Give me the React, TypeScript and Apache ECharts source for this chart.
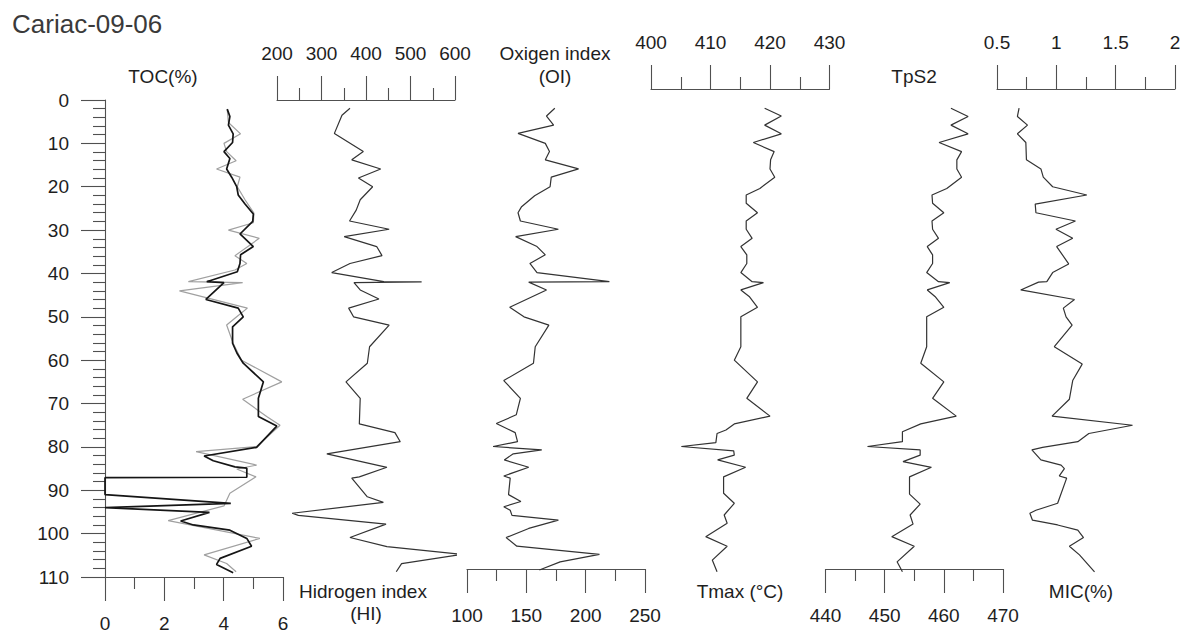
import { useEffect, useRef } from "react";
import * as echarts from "echarts";

const chartTitle = "Cariac-09-06";
const depthMin = 0;
const depthMax = 110;

// [depth, value]
const tocBlack = [
  [2.1, 4.12], [3.8, 4.21], [5.8, 4.16], [7.8, 4.32], [9.8, 4.3], [11.9, 4.01], [13.5, 4.21], [15.9, 4.1],
  [17.8, 4.27], [20, 4.44], [21.9, 4.49], [24, 4.72], [26.3, 5.0], [28, 4.98], [30.9, 4.55], [33.8, 5.0],
  [35.7, 4.57], [37.7, 4.55], [39.6, 4.46], [41.9, 3.43], [42.1, 4.01], [46, 3.4], [48, 4.49], [50, 4.66],
  [52.3, 4.3], [56.1, 4.3], [58.4, 4.45], [60.7, 4.66], [65, 5.34], [68.8, 5.17], [73, 5.17], [75.2, 5.79],
  [80.1, 5.11], [82.1, 3.34], [83.2, 3.65], [84.6, 4.38], [84.9, 4.78], [87, 4.78], [87.1, 0], [91, 0],
  [93, 4.24], [94, 0], [95.1, 3.52], [97.1, 2.55], [98, 2.98], [99.2, 4.21], [101.1, 4.78], [102.9, 4.94],
  [105.7, 3.88], [107.1, 3.76], [109, 4.32],
];

const tocGray = [
  [2.1, 4.12], [5.2, 4.16], [7.8, 4.57], [10, 4.01], [11.9, 4.1], [14, 4.42], [15.9, 3.76], [17.8, 4.55],
  [20, 4.46], [23, 4.72], [26.1, 5.02], [28.3, 5.0], [30, 4.16], [31.9, 5.2], [35.9, 4.38], [37.7, 4.78],
  [39.2, 4.38], [41.9, 2.81], [42.1, 4.64], [44, 2.51], [48, 4.8], [50, 4.44], [51.9, 4.1], [56.1, 4.32],
  [60, 4.6], [65, 5.96], [69, 4.64], [73, 5.45], [75, 5.9], [79.9, 5.11], [81.1, 3.07], [84.2, 5.11],
  [85.1, 4.44], [86.9, 5.09], [90.7, 4.21], [93.6, 4.01], [97, 2.13], [101.1, 5.22], [104.9, 3.34],
  [106.9, 4.1], [108.8, 4.42],
];

const hiData = [
  [1.9, 364], [3.5, 346], [7.7, 329], [11.9, 394], [13.8, 368], [15.9, 433], [18, 383], [20, 415],
  [23, 387], [25.4, 378], [27.9, 363], [29.8, 452], [31.5, 351], [33.8, 424], [35.9, 436], [37.7, 364],
  [39.8, 323], [41.9, 440], [41.95, 525], [42.1, 373], [43.8, 387], [45.9, 429], [48, 361], [50, 372],
  [51.9, 452], [56.9, 408], [60.7, 403], [65, 355], [68.8, 387], [74.7, 385], [76.7, 465], [78.8, 477],
  [81.6, 312], [84.7, 447], [86.9, 385], [87.2, 368], [91.5, 403], [92.8, 439], [95.3, 234], [95.8, 248],
  [97.8, 445], [100.9, 364], [103, 447], [104.8, 615], [106.9, 480], [108.8, 468],
];

const oiData = [
  [1.9, 174], [3.7, 167], [5.8, 173], [7.7, 143], [10, 166], [11.9, 169.5], [13.8, 166], [15.9, 194],
  [17.8, 171], [20, 170], [22.1, 157], [24.6, 146], [26, 143], [27.9, 145], [29.8, 177], [31.5, 141],
  [33.8, 159], [35.7, 166], [37.7, 153], [39.8, 159], [41.9, 220], [42, 152], [43.8, 167], [47.8, 136],
  [50, 148], [51.9, 169], [56.9, 157.5], [60.7, 156], [64.7, 131], [68.8, 145], [72.6, 141.5], [74.6, 124.7],
  [76.7, 140.6], [78.8, 142.6], [79.9, 122], [80.7, 163], [81.6, 139], [83, 131.4], [84.7, 152], [86.7, 131],
  [87.2, 136.4], [91, 135], [92.6, 145.4], [93.8, 131], [94.6, 136.4], [95.8, 137.9], [96.9, 177], [98.8, 152],
  [100.9, 133], [102.9, 142], [104.8, 211.6], [106.5, 178.5], [108.4, 161],
];

const tmaxData = [
  [1.9, 419.1], [3.7, 421.9], [5.8, 419.1], [7.8, 421.9], [9.8, 417.2], [11.9, 420.7], [13.8, 420.1],
  [15.9, 420], [17.8, 420.8], [20.4, 418.3], [21.9, 416], [23.8, 416], [26, 417.9], [27.9, 416], [29.8, 416],
  [31.9, 417], [33.8, 415.1], [35.7, 416.1], [37.7, 416.1], [39.8, 415.1], [41.9, 417], [42.1, 418.9],
  [43.8, 415.1], [45.3, 416.5], [47.8, 417.9], [50, 415.1], [56.9, 415.1], [60, 414], [65, 417.9],
  [68.8, 416.1], [72.9, 420], [74.7, 414], [76.1, 412.6], [76.9, 411.1], [79, 410.9], [79.9, 405.1],
  [80.9, 413.9], [81.9, 414], [83, 411.2], [84.7, 415.9], [86.9, 412.2], [90.7, 412.2], [93, 414],
  [95.7, 412.3], [97.6, 412.8], [100.7, 409.2], [102.9, 412.8], [106.1, 410.3], [108.8, 411.1],
];

const tps2Data = [
  [1.9, 461.2], [3.8, 464.1], [5.8, 461.2], [7.8, 464.1], [9.8, 459.2], [11.9, 463], [13.8, 462.2],
  [15.9, 462.2], [17.8, 463], [20.4, 460.5], [21.9, 458], [23.8, 458.1], [26, 460], [27.9, 458], [29.8, 458.1],
  [31.9, 459.1], [33.8, 457.2], [35.7, 458.1], [37.7, 458.1], [39.8, 457.1], [41.9, 459.1], [42.1, 461],
  [43.8, 457.2], [45.3, 458.5], [47.8, 460], [50, 457.1], [56.9, 457.1], [60.7, 456.1], [65, 460],
  [68.8, 458.1], [72.9, 462.1], [74.7, 456.1], [76.5, 453], [78.8, 453], [79.9, 447.1], [80.7, 456],
  [81.9, 456], [83.4, 453.1], [84.7, 457.9], [86.9, 454.2], [90.9, 454.2], [93.2, 456], [95.7, 454.3],
  [97.8, 454.8], [100.7, 451.2], [102.9, 455], [106.5, 452.1], [108.8, 453],
];

const micData = [
  [1.9, 0.686], [3.8, 0.672], [5.8, 0.757], [7.8, 0.672], [9.8, 0.743], [13.8, 0.748], [15.9, 0.87],
  [17.8, 0.89], [20, 0.969], [21.9, 1.257], [24, 0.822], [26, 0.828], [27.9, 1.161], [29.8, 0.997],
  [31.9, 1.138], [33.8, 1.003], [37.8, 1.104], [39.8, 0.969], [41.9, 0.92], [42, 0.85], [43.8, 0.7],
  [46, 1.153], [48, 1.059], [50, 1.082], [51.9, 1.133], [56.9, 0.983], [60.9, 1.218], [64.7, 1.138],
  [69, 1.11], [72.9, 0.964], [75, 1.642], [76.9, 1.274], [78.8, 1.181], [80.1, 0.884], [80.7, 0.794],
  [83, 0.87], [84.2, 1.04], [85, 1.068], [86.7, 1.025], [87.2, 1.087], [93, 1.011], [94.6, 0.828],
  [95.3, 0.777], [96.9, 0.799], [98, 1.011], [99.2, 1.181], [100.9, 1.229], [102.9, 1.11], [104.9, 1.195],
  [108.8, 1.322],
];

// axis ranges: [min, max, interval]
const tocAxis = [0, 6, 2];
const hiAxis = [200, 600, 100];
const oiAxis = [100, 250, 50];
const tmaxAxis = [400, 430, 10];
const tps2Axis = [440, 470, 10];
const micAxis = [0.5, 2, 0.5];

const axisTitles = [
  { text: "TOC(%)", x: 163, y: 76 },
  { text: "Hidrogen index", x: 363, y: 591 },
  { text: "(HI)", x: 366, y: 613 },
  { text: "Oxigen index", x: 555, y: 53 },
  { text: "(OI)", x: 555, y: 76 },
  { text: "Tmax (°C)", x: 740, y: 591 },
  { text: "TpS2", x: 914, y: 76 },
  { text: "MIC(%)", x: 1081, y: 591 },
];

const FONT = "'Liberation Sans', Arial, sans-serif";
const AXIS_COLOR = "#505050";
const TEXT_COLOR = "#1e1e1e";
const LINE_COLOR = "#333";

const GRID_TOP = 100;
const GRID_H = 477;

function makeXAxis(gridIndex: number, position: string, range: number[], offset: number) {
  return {
    type: "value",
    gridIndex,
    position,
    min: range[0],
    max: range[1],
    interval: range[2],
    offset,
    axisLine: { show: true, onZero: false, lineStyle: { color: AXIS_COLOR, width: 1.1 } },
    axisTick: { show: true, length: 24, lineStyle: { color: AXIS_COLOR, width: 1.1 } },
    minorTick: { show: true, splitNumber: 2, length: 12, lineStyle: { color: AXIS_COLOR, width: 1.1 } },
    splitLine: { show: false },
    minorSplitLine: { show: false },
    axisLabel: { color: TEXT_COLOR, fontSize: 19, fontFamily: FONT, margin: 37 },
  };
}

function makeYAxis(gridIndex: number, show: boolean) {
  return {
    type: "value",
    gridIndex,
    inverse: true,
    min: depthMin,
    max: depthMax,
    interval: 10,
    show,
    position: "left",
    axisLine: { show: true, onZero: false, lineStyle: { color: AXIS_COLOR, width: 1.1 } },
    axisTick: { show: true, length: 24, lineStyle: { color: AXIS_COLOR, width: 1.1 } },
    minorTick: { show: true, splitNumber: 5, length: 12, lineStyle: { color: AXIS_COLOR, width: 1.1 } },
    splitLine: { show: false },
    minorSplitLine: { show: false },
    axisLabel: { color: TEXT_COLOR, fontSize: 19, fontFamily: FONT, margin: 36 },
  };
}

function makeSeries(idx: number, pts: number[][], color: string, width: number, z = 2) {
  return {
    type: "line",
    xAxisIndex: idx,
    yAxisIndex: idx,
    data: pts.map(([d, v]) => [v, d]),
    showSymbol: false,
    symbol: "none",
    clip: false,
    z,
    lineStyle: { color, width },
    emphasis: { disabled: true },
  };
}

export default function App() {
  const ref = useRef<HTMLDivElement>(null);
  useEffect(() => {
    document.body.style.margin = "0";
    const chart = echarts.init(ref.current!, null, { renderer: "svg" });
    const grids = [
      { left: 105, width: 178 },
      { left: 277, width: 178 },
      { left: 467, width: 178 },
      { left: 651, width: 178.5 },
      { left: 825.5, width: 177.5 },
      { left: 997, width: 178 },
    ].map((g) => ({ ...g, top: GRID_TOP, height: GRID_H, outerBoundsMode: "none", containLabel: false }));

    const option = {
      animation: false,
      backgroundColor: "#fff",
      grid: grids,
      xAxis: [
        makeXAxis(0, "bottom", tocAxis, 0),
        makeXAxis(1, "top", hiAxis, 0),
        makeXAxis(2, "bottom", oiAxis, -8),
        makeXAxis(3, "top", tmaxAxis, 11),
        makeXAxis(4, "bottom", tps2Axis, -8),
        makeXAxis(5, "top", micAxis, 11),
      ],
      yAxis: [0, 1, 2, 3, 4, 5].map((i) => makeYAxis(i, i === 0)),
      series: [
        makeSeries(0, tocGray, "#a0a0a0", 1.2, 2),
        makeSeries(0, tocBlack, "#151515", 1.7, 3),
        makeSeries(1, hiData, LINE_COLOR, 1.2),
        makeSeries(2, oiData, LINE_COLOR, 1.2),
        makeSeries(3, tmaxData, LINE_COLOR, 1.2),
        makeSeries(4, tps2Data, LINE_COLOR, 1.2),
        makeSeries(5, micData, LINE_COLOR, 1.2),
      ],
      graphic: [
        {
          type: "text",
          x: 12,
          y: 24,
          style: { text: chartTitle, fontSize: 26, fontFamily: FONT, fill: "#3a3a3a", align: "left", verticalAlign: "middle" },
        },
        ...axisTitles.map((t) => ({
          type: "text",
          x: t.x,
          y: t.y,
          style: { text: t.text, fontSize: 19, fontFamily: FONT, fill: TEXT_COLOR, align: "center", verticalAlign: "middle" },
        })),
      ],
    };
    chart.setOption(option as any);
    return () => chart.dispose();
  }, []);
  return <div ref={ref} style={{ width: 1182, height: 633 }} />;
}
